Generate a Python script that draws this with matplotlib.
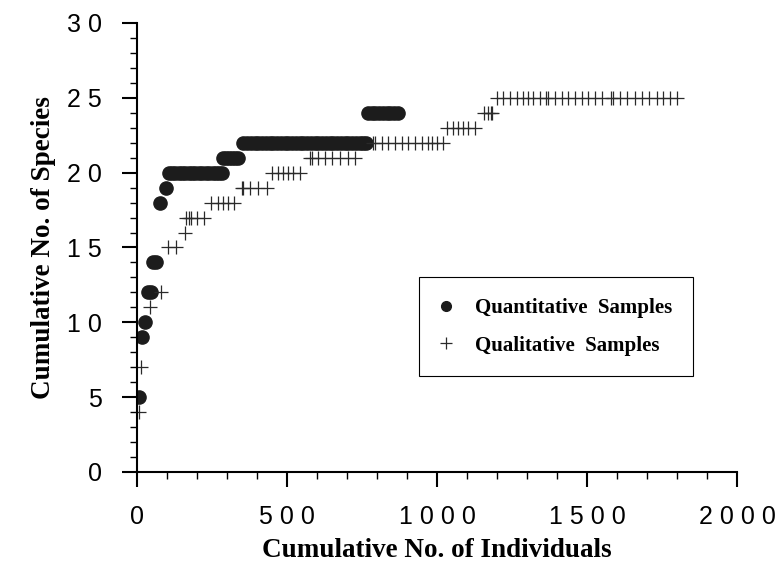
## species_accumulation.py
import numpy as np
import matplotlib
matplotlib.use('Agg')
import matplotlib.pyplot as plt
from matplotlib.ticker import MultipleLocator, FuncFormatter

# Quantitative samples (filled circles)
quant_x = [7, 18, 28, 38, 48, 55, 65, 78, 96,
           107, 118, 128, 139, 150, 160, 172, 183, 195, 206, 218, 229, 240, 252, 263, 275, 283,
           287, 297, 307, 317, 327, 337,
           355, 367, 380, 392, 405, 417, 430, 442, 455, 467, 480, 492, 505, 517, 530, 542, 555,
           567, 580, 592, 605, 617, 630, 642, 655, 667, 680, 692, 705, 717, 730, 742, 755, 763,
           770, 782, 795, 808, 820, 833, 845, 858, 870]
quant_y = [5, 9, 10, 12, 12, 14, 14, 18, 19,
           20, 20, 20, 20, 20, 20, 20, 20, 20, 20, 20, 20, 20, 20, 20, 20, 20,
           21, 21, 21, 21, 21, 21,
           22, 22, 22, 22, 22, 22, 22, 22, 22, 22, 22, 22, 22, 22, 22, 22, 22,
           22, 22, 22, 22, 22, 22, 22, 22, 22, 22, 22, 22, 22, 22, 22, 22, 22,
           24, 24, 24, 24, 24, 24, 24, 24, 24]

# Qualitative samples (plus signs)
qual_x = [7, 14, 42, 81,
          103, 130,
          161,
          165, 172, 180, 200, 225,
          247, 270, 287, 303, 323,
          350, 355, 377, 403, 433,
          450, 470, 487, 503, 520, 543,
          577, 583, 603, 627, 650, 677, 703, 727,
          787, 792, 817, 837, 860, 883, 903, 927, 950, 970, 983, 1000, 1020,
          1033, 1053, 1070, 1087, 1103, 1127,
          1157, 1170, 1180, 1185,
          1200, 1220, 1243, 1267, 1287, 1303, 1320, 1343, 1363, 1370, 1393, 1417, 1437, 1460,
          1483, 1503, 1527, 1550, 1580, 1587, 1610, 1633, 1660, 1683, 1707, 1733, 1753, 1777, 1800]
qual_y = [4, 7, 11, 12,
          15, 15,
          16,
          17, 17, 17, 17, 17,
          18, 18, 18, 18, 18,
          19, 19, 19, 19, 19,
          20, 20, 20, 20, 20, 20,
          21, 21, 21, 21, 21, 21, 21, 21,
          22, 22, 22, 22, 22, 22, 22, 22, 22, 22, 22, 22, 22,
          23, 23, 23, 23, 23, 23,
          24, 24, 24, 24,
          25, 25, 25, 25, 25, 25, 25, 25, 25, 25, 25, 25, 25, 25,
          25, 25, 25, 25, 25, 25, 25, 25, 25, 25, 25, 25, 25, 25, 25]

serif = 'Liberation Serif'
sans = 'Liberation Sans'

fig = plt.figure(figsize=(7.76, 5.69), dpi=100)
ax = fig.add_axes([0.1765, 0.1705, 0.7732, 0.7891])

ax.plot(quant_x, quant_y, linestyle='none', marker='o', markersize=9.5,
        color='#1c1c1c', label='Quantitative  Samples')
ax.plot(qual_x, qual_y, linestyle='none', marker='+', markersize=10,
        markeredgewidth=0.9, color='#2a2a2a', label='Qualitative  Samples')

ax.set_xlim(0, 2000)
ax.set_ylim(0, 30)

# Axis styling
for side in ['top', 'right']:
    ax.spines[side].set_visible(False)
for side in ['left', 'bottom']:
    ax.spines[side].set_linewidth(1.5)

ax.xaxis.set_major_locator(MultipleLocator(500))
ax.xaxis.set_minor_locator(MultipleLocator(100))
ax.yaxis.set_major_locator(MultipleLocator(5))
ax.yaxis.set_minor_locator(MultipleLocator(1))

spaced = FuncFormatter(lambda v, pos: ' '.join(str(int(round(v)))))
ax.xaxis.set_major_formatter(spaced)
ax.yaxis.set_major_formatter(spaced)

ax.tick_params(which='major', direction='out', length=11, width=1.5)
ax.tick_params(which='minor', direction='out', length=5, width=1.0)
ax.tick_params(axis='x', which='major', pad=13)
ax.tick_params(axis='y', which='major', pad=14)
for lab in ax.get_xticklabels() + ax.get_yticklabels():
    lab.set_fontfamily(sans)
    lab.set_fontsize(18)

ax.set_xlabel('Cumulative No. of Individuals', fontfamily=serif,
              fontweight='bold', fontsize=19.5, labelpad=6)
ax.set_ylabel('Cumulative No. of Species', fontfamily=serif,
              fontweight='bold', fontsize=19.5, labelpad=8)

leg = ax.legend(loc='upper left', bbox_to_anchor=(0.47, 0.434),
                prop={'family': serif, 'weight': 'bold', 'size': 15},
                fancybox=False, edgecolor='black', framealpha=1,
                borderpad=1.0, labelspacing=0.85, handletextpad=1.1,
                handlelength=0.6, borderaxespad=0)
leg.get_frame().set_linewidth(0.8)
leg.legend_handles[0].set_markersize(7)
leg.legend_handles[1].set_markersize(8)

fig.savefig('out.png', dpi=100)
